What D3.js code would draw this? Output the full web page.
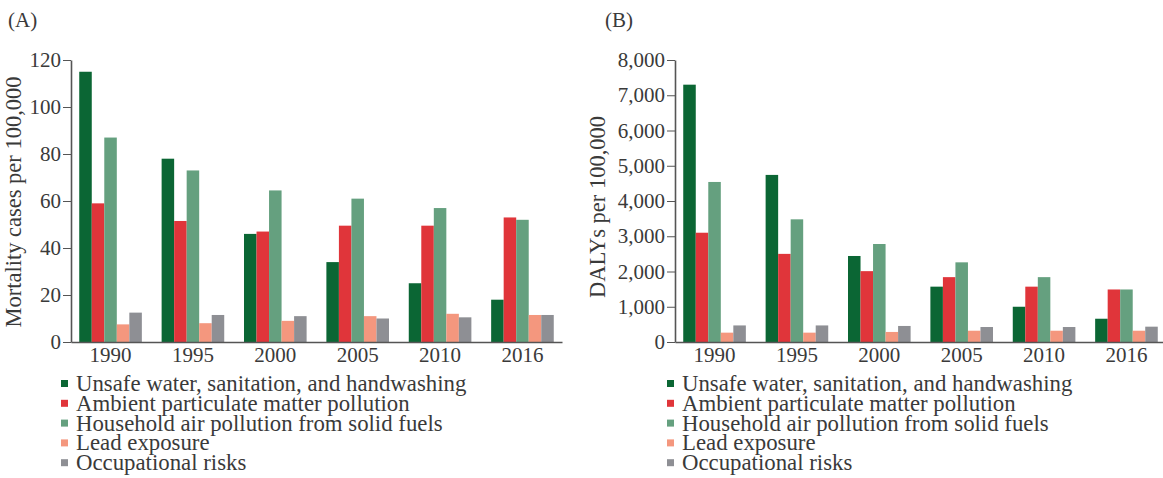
<!DOCTYPE html>
<html>
<head>
<meta charset="utf-8">
<script src="https://cdn.jsdelivr.net/npm/d3@7"></script>
<style>
  body { margin: 0; background: #fff; }
  svg text { font-family: 'Liberation Serif', 'DejaVu Serif', serif; fill: #3a3a3a; }
  .axis path, .axis line { stroke: #555; }
</style>
</head>
<body>
<svg id="chart" width="1163" height="478"></svg>
<script>
// Years on the x axis of both panels
var years = ['1990', '1995', '2000', '2005', '2010', '2016']

// Risk factors, in legend / bar order
var seriesNames = [
  'Unsafe water, sanitation, and handwashing',
  'Ambient particulate matter pollution',
  'Household air pollution from solid fuels',
  'Lead exposure',
  'Occupational risks'
]
var seriesColors = ['#0b6634', '#e0353a', '#65a07f', '#f4977e', '#8e8f94']

// (A) Mortality cases per 100,000
var mortUnsafe = [115, 78, 46, 34, 25, 18]
var mortAmbient = [59, 51.5, 47, 49.5, 49.5, 53]
var mortHousehold = [87, 73, 64.5, 61, 57, 52]
var mortLead = [7.5, 8, 9, 11, 12, 11.5]
var mortOccupational = [12.5, 11.5, 11, 10, 10.5, 11.5]

// (B) DALYs per 100,000
var dalyUnsafe = [7300, 4740, 2440, 1570, 1000, 660]
var dalyAmbient = [3100, 2500, 2010, 1840, 1570, 1490]
var dalyHousehold = [4540, 3480, 2780, 2260, 1840, 1490]
var dalyLead = [265, 265, 285, 320, 320, 320]
var dalyOccupational = [470, 470, 455, 425, 425, 435]

var mortTicks = [0, 20, 40, 60, 80, 100, 120]
var dalyTicks = [0, 1000, 2000, 3000, 4000, 5000, 6000, 7000, 8000]

var svg = d3.select('#chart')
var fontSize = 21

function drawPanel (opts) {
  var g = svg.append('g')
  var values = opts.series

  var x0 = d3.scaleBand()
    .domain(years)
    .range([opts.left, opts.right])
    .paddingInner(0.24)
    .paddingOuter(0.1)

  var x1 = d3.scaleBand()
    .domain(d3.range(seriesNames.length))
    .range([0, x0.bandwidth()])

  var y = d3.scaleLinear()
    .domain([0, opts.yMax])
    .range([342, 60])

  // bars, one group per year
  var groups = g.selectAll('.year')
    .data(years)
    .enter().append('g')
    .attr('class', 'year')
    .attr('transform', function (d) { return 'translate(' + x0(d) + ',0)' })

  groups.selectAll('rect')
    .data(function (d, i) {
      return values.map(function (s, k) { return { k: k, v: s[i] } })
    })
    .enter().append('rect')
    .attr('x', function (d) { return x1(d.k) })
    .attr('width', x1.bandwidth())
    .attr('y', function (d) { return y(d.v) })
    .attr('height', function (d) { return y(0) - y(d.v) })
    .attr('fill', function (d) { return seriesColors[d.k] })

  // y axis
  var yAxis = g.append('g')
    .attr('class', 'axis')
    .attr('transform', 'translate(' + opts.left + ',0)')
    .call(d3.axisLeft(y).tickValues(opts.ticks).tickFormat(opts.format).tickSize(8).tickSizeOuter(0).tickPadding(2))
  yAxis.select('.domain').attr('stroke-width', 1.6)
  yAxis.selectAll('text').style('font-size', fontSize + 'px').attr('fill', '#3a3a3a')

  // x axis (baseline + year labels, no tick marks)
  var xAxis = g.append('g')
    .attr('class', 'axis')
    .attr('transform', 'translate(0,' + y(0) + ')')
    .call(d3.axisBottom(x0).tickSize(0).tickSizeOuter(0).tickPadding(5))
  xAxis.select('.domain').attr('stroke-width', 1.6)
  xAxis.selectAll('text').style('font-size', fontSize + 'px').attr('fill', '#3a3a3a')

  // y axis title
  g.append('text')
    .attr('transform', 'translate(' + opts.titleX + ',' + opts.titleY + ') rotate(-90)')
    .attr('text-anchor', 'middle')
    .style('font-size', '22.5px')
    .text(opts.title)

  // panel letter
  g.append('text')
    .attr('x', opts.labelX)
    .attr('y', 27)
    .style('font-size', '21px')
    .text(opts.label)

  // legend
  var legend = g.selectAll('.legend')
    .data(seriesNames)
    .enter().append('g')
    .attr('class', 'legend')
    .attr('transform', function (d, i) { return 'translate(' + opts.legendX + ',' + (391 + i * 19.8) + ')' })

  legend.append('rect')
    .attr('x', 0)
    .attr('y', -11)
    .attr('width', 7)
    .attr('height', 7)
    .attr('fill', function (d, i) { return seriesColors[i] })

  legend.append('text')
    .attr('x', 15)
    .attr('y', 0)
    .style('font-size', '22.8px')
    .text(function (d) { return d })
}

drawPanel({
  label: '(A)',
  labelX: 8,
  title: 'Mortality cases per 100,000',
  titleX: 21,
  titleY: 202,
  left: 71,
  right: 562,
  yMax: 120,
  ticks: mortTicks,
  format: d3.format('d'),
  legendX: 61,
  series: [mortUnsafe, mortAmbient, mortHousehold, mortLead, mortOccupational]
})

drawPanel({
  label: '(B)',
  labelX: 605,
  title: 'DALYs per 100,000',
  titleX: 605,
  titleY: 207,
  left: 675,
  right: 1166,
  yMax: 8000,
  ticks: dalyTicks,
  format: d3.format(','),
  legendX: 667,
  series: [dalyUnsafe, dalyAmbient, dalyHousehold, dalyLead, dalyOccupational]
})
</script>
</body>
</html>
